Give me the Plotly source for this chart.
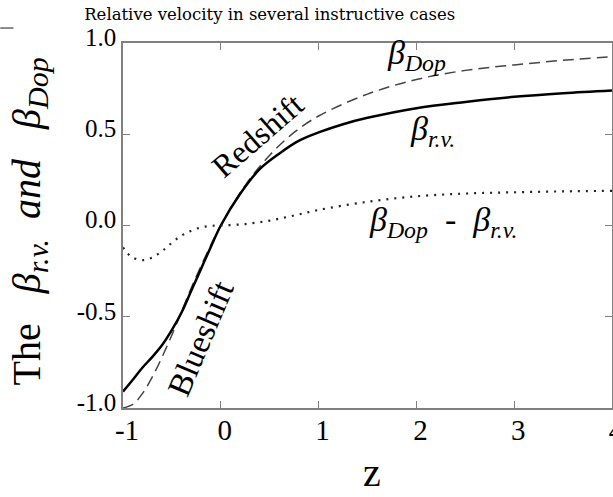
import plotly.graph_objects as go

# ---- data ----
z_dop = [-1, -0.9, -0.8, -0.7, -0.6, -0.5, -0.4, -0.3, -0.2, -0.1, 0, 0.25, 0.5, 0.75, 1, 1.5, 2, 2.5, 3, 3.5, 4]
beta_dop = [-1.0, -0.98, -0.92, -0.83, -0.72, -0.60, -0.47, -0.34, -0.22, -0.105, 0, 0.22, 0.385, 0.51, 0.60, 0.72, 0.80, 0.85, 0.88, 0.905, 0.925]

z_rv = [-1, -0.9, -0.8, -0.7, -0.6, -0.5, -0.4, -0.3, -0.2, -0.1, 0, 0.2, 0.4, 0.6, 0.8, 1.0, 1.25, 1.5, 2, 2.5, 3, 3.5, 4]
beta_rv = [-0.91, -0.845, -0.778, -0.72, -0.655, -0.572, -0.475, -0.355, -0.235, -0.115, 0, 0.175, 0.31, 0.395, 0.465, 0.51, 0.555, 0.59, 0.643, 0.677, 0.705, 0.725, 0.74]

z_diff = [-1, -0.95, -0.9, -0.8, -0.7, -0.6, -0.5, -0.4, -0.3, -0.2, -0.1, 0, 0.25, 0.5, 0.75, 1, 1.5, 2, 2.5, 3, 3.5, 4]
beta_diff = [-0.12, -0.155, -0.175, -0.19, -0.175, -0.14, -0.095, -0.055, -0.028, -0.01, -0.002, 0, 0.008, 0.027, 0.055, 0.085, 0.13, 0.16, 0.175, 0.182, 0.187, 0.19]

x_ticks = [-1, 0, 1, 2, 3, 4]
x_ticktext = ["-1", "0", "1", "2", "3", "4"]
y_ticks = [-1.0, -0.5, 0.0, 0.5, 1.0]
y_ticktext = ["-1.0", "-0.5", "0.0", "0.5", "1.0"]

SERIF = "Liberation Serif"

fig = go.Figure()
fig.add_trace(go.Scatter(x=z_dop, y=beta_dop, mode="lines", line=dict(color="#444", width=1.5, dash="11px,6px", shape="spline"), showlegend=False))
fig.add_trace(go.Scatter(x=z_rv, y=beta_rv, mode="lines", line=dict(color="black", width=2.5, shape="spline"), showlegend=False))
fig.add_trace(go.Scatter(x=z_diff, y=beta_diff, mode="lines", line=dict(color="#222", width=2.2, dash="2px,6px", shape="spline"), showlegend=False))

axis_common = dict(showgrid=False, zeroline=False, showline=True, linecolor="#808080", linewidth=1.5,
                   mirror="ticks", ticks="inside", ticklen=7, tickcolor="#808080", tickwidth=1.2)

fig.update_xaxes(range=[-1, 4], tickvals=x_ticks, ticktext=x_ticktext,
                 tickfont=dict(family=SERIF, size=29, color="black"), ticklabelshift=4, ticklabelstandoff=-5,
                 ticklabeloverflow="allow", **axis_common)
fig.update_yaxes(range=[-1, 1], tickvals=y_ticks, ticktext=y_ticktext,
                 tickfont=dict(family=SERIF, size=25, color="black"), ticklabelshift=-6, ticklabelstandoff=0,
                 ticklabeloverflow="allow", **axis_common)

sub_style = "font-size:30px"
ytitle = ("The&nbsp;&nbsp; <i>β<sub><span style='%s'>r.v.</span></sub>&nbsp; and&nbsp;&nbsp; "
          "β<sub><span style='%s'>Dop</span></sub></i>") % (sub_style, sub_style)

ann = []
# axis titles
ann.append(dict(text=ytitle, xref="paper", yref="paper",
                x=-0.193, y=0.51, textangle=-90, showarrow=False, xanchor="center", yanchor="middle",
                font=dict(family=SERIF, size=40, color="black")))
ann.append(dict(text="z", xref="paper", yref="paper", x=0.51, y=-0.178, showarrow=False,
                xanchor="center", yanchor="middle", font=dict(family=SERIF, size=40, color="black")))
# curve labels
ann.append(dict(text="<i>β<sub>Dop</sub></i>", x=2.0, y=0.935, showarrow=False,
                font=dict(family=SERIF, size=34, color="black")))
ann.append(dict(text="<i>β<sub>r.v.</sub></i>", x=2.16, y=0.52, showarrow=False,
                font=dict(family=SERIF, size=34, color="black")))
ann.append(dict(text="<i>β<sub>Dop</sub></i>  -  <i>β<sub>r.v.</sub></i>", x=2.28, y=0.02, showarrow=False,
                font=dict(family=SERIF, size=34, color="black")))
ann.append(dict(text="Redshift", x=0.38, y=0.497, textangle=-41, showarrow=False,
                font=dict(family=SERIF, size=32, color="black")))
ann.append(dict(text="Blueshift", x=-0.21, y=-0.62, textangle=-67, showarrow=False,
                font=dict(family=SERIF, size=33, color="black")))

fig.update_layout(
    width=613, height=497,
    font=dict(family=SERIF, color="black"),
    margin=dict(l=123, r=1, t=43, b=89, autoexpand=False),
    paper_bgcolor="white", plot_bgcolor="white",
    title=dict(text="Relative velocity in several instructive cases", xref="container", yref="container",
               x=0.44, y=0.972, xanchor="center", yanchor="middle",
               font=dict(family="DejaVu Serif", size=16.5, color="black")),
    annotations=ann,
    shapes=[dict(type="line", xref="paper", yref="paper", x0=-0.251, x1=-0.224, y0=1.041, y1=1.041,
                 line=dict(color="#666", width=1.5))],
)

fig.write_html("out.html", config={"displayModeBar": False},
               post_script="document.body.style.margin='0px';")
